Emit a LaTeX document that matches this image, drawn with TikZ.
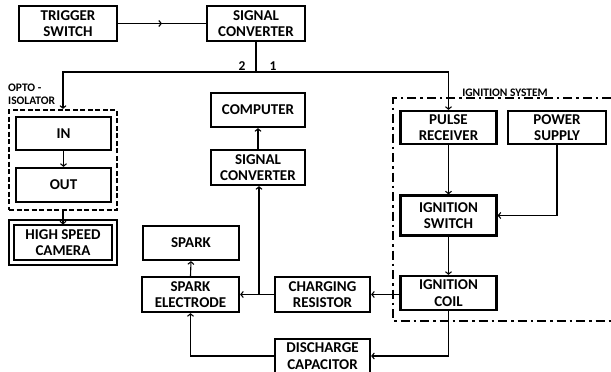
\documentclass[tikz,border=0pt]{standalone}
\usepackage{fontspec}
\setmainfont{Carlito}
\usetikzlibrary{arrows.meta,decorations.markings}
\begin{document}
\begin{tikzpicture}[x=1pt,y=-1pt,
  box/.style={draw, line width=2.2pt, align=center, inner sep=0pt,
    font=\bfseries\fontsize{15}{16.5}\selectfont},
  conn/.style={line width=1.1pt},
  arr/.style={conn, -{Straight Barb[length=2.5pt,width=6pt]}},
  lbl/.style={font=\bfseries\fontsize{11.5}{13}\selectfont, inner sep=0pt, align=left},
  midarrow/.style={conn, decoration={markings, mark=at position 0.5 with {\arrow{Straight Barb[length=2.5pt,width=6pt]}}}, postaction={decorate}}
]
\useasboundingbox (0,0) rectangle (611,372);
% top row
\node[box, minimum width=98, minimum height=35] (trig) at (68,23.5) {TRIGGER\\SWITCH};
\node[box, minimum width=98, minimum height=35] (sc1) at (256,23.5) {SIGNAL\\CONVERTER};
% opto isolator
\node[draw, line width=2.2pt, dash pattern=on 5pt off 2.5pt, minimum width=108, minimum height=100, inner sep=0pt] (opto) at (63,160) {};
\node[box, minimum width=95, minimum height=33] (in) at (63.5,133.5) {IN};
\node[box, minimum width=95, minimum height=34] (out) at (63.5,185) {OUT};
\node[box, line width=2pt, double, double distance=3pt, minimum width=103, minimum height=40] (cam) at (63,242.5) {HIGH SPEED\\CAMERA};
\node[lbl, anchor=west] (optolbl) at (8,94) {OPTO -\\ISOLATOR};
% middle
\node[box, minimum width=94, minimum height=34] (comp) at (258,110) {COMPUTER};
\node[box, minimum width=94, minimum height=35] (sc2) at (258,167.5) {SIGNAL\\CONVERTER};
\node[box, minimum width=96, minimum height=34] (spark) at (191,243) {SPARK};
\node[box, minimum width=97, minimum height=35] (se) at (190.5,294.5) {SPARK\\ELECTRODE};
\node[box, minimum width=95, minimum height=35] (cr) at (322.5,294.5) {CHARGING\\RESISTOR};
\node[box, minimum width=95, minimum height=34] (dc) at (322.5,356) {DISCHARGE\\CAPACITOR};
% ignition system
\draw[line width=2.4pt, dash pattern=on 9pt off 4pt on 2.5pt off 4pt] (611,98) -- (393,98) -- (393,321) -- (611,321);
\node[lbl, anchor=south] (islbl) at (505,97) {IGNITION SYSTEM};
\node[box, minimum width=96, minimum height=33] (pr) at (448.5,127.5) {PULSE\\RECEIVER};
\node[box, minimum width=98, minimum height=33] (ps) at (557,127.5) {POWER\\SUPPLY};
\node[box, minimum width=96, minimum height=40] (sw) at (448.5,215.5) {IGNITION\\SWITCH};
\node[box, minimum width=96, minimum height=34] (coil) at (448.5,293) {IGNITION\\COIL};
% connectors
\draw[midarrow] (trig.east) -- (sc1.west);
\coordinate (split) at (256,72);
\draw[conn] (sc1.south) -- (split);
\draw[arr] (split) -| (opto.north);
\draw[arr] (split) -| (pr.north);
\node[font=\bfseries\fontsize{13.5}{15}\selectfont, inner sep=0pt] (two) at (242,66) {2};
\node[font=\bfseries\fontsize{13.5}{15}\selectfont, inner sep=0pt] (one) at (273,66) {1};
\draw[arr] (in.south) -- (out.north);
\draw[arr] (opto.south) -- ([yshift=-3pt]cam.north);
\draw[arr] (se.north) -- (spark.south);
\draw[arr] (sc2.north) -- (comp.south);
\coordinate (j) at (259,294.5);
\draw[arr] (j) -- (j |- sc2.south);
\draw[arr] (cr.west) -- (se.east);
\draw[arr] (coil.west |- cr.east) -- (cr.east);
\draw[arr] (pr.south) -- (sw.north);
\draw[arr] (sw.south) -- (coil.north);
\draw[arr] (ps.south) |- (sw.east);
\draw[arr] (coil.south) |- (dc.east);
\draw[arr] (dc.west) -| (se.south);
\end{tikzpicture}
\end{document}
